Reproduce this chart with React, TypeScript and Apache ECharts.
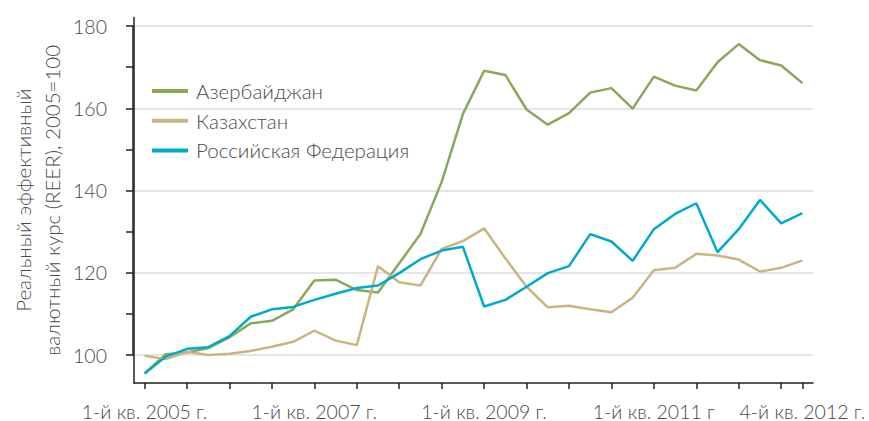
import React, { useEffect, useRef } from "react";
import * as echarts from "echarts";

const years = [2005, 2006, 2007, 2008, 2009, 2010, 2011, 2012];
const quarters = ["1-й кв.", "2-й кв.", "3-й кв.", "4-й кв."];
const categories: string[] = [];
years.forEach((y) => quarters.forEach((q) => categories.push(`${q} ${y} г.`)));

// displayed x tick labels (index -> text)
const xTickLabels: Record<number, string> = {
  0: "1-й кв. 2005 г.",
  8: "1-й кв. 2007 г.",
  16: "1-й кв. 2009 г.",
  24: "1-й кв. 2011 г",
  31: "4-й кв. 2012 г.",
};

const azerbaijan = [
  95.5, 100.2, 100.6, 101.7, 104.3, 107.7, 108.3, 111.1,
  118.1, 118.3, 115.8, 115.2, 122.3, 129.4, 142.1, 158.6,
  169.1, 168.1, 159.7, 156.0, 158.8, 163.8, 164.9, 159.9,
  167.7, 165.5, 164.3, 171.2, 175.6, 171.7, 170.4, 166.1,
];
const kazakhstan = [
  99.8, 99.0, 100.8, 100.0, 100.3, 101.0, 102.0, 103.2,
  105.9, 103.5, 102.4, 121.6, 117.7, 116.9, 125.8, 127.7,
  130.8, 123.5, 116.6, 111.6, 112.0, 111.1, 110.4, 113.9,
  120.6, 121.2, 124.6, 124.2, 123.2, 120.3, 121.2, 123.0,
];
const russia = [
  95.5, 99.6, 101.5, 101.9, 104.6, 109.3, 111.1, 111.7,
  113.4, 114.9, 116.3, 116.9, 119.9, 123.3, 125.4, 126.3,
  111.8, 113.4, 116.6, 119.9, 121.6, 129.4, 127.6, 122.9,
  130.6, 134.3, 136.9, 125.0, 130.6, 137.7, 132.0, 134.5,
];

const seriesNames = ["Азербайджан", "Казахстан", "Российская Федерация"];
const seriesColors = ["#89a858", "#c8b580", "#00aacc"];

const FONT = "Lato, 'Open Sans', sans-serif";
const TEXT = "#4a4a4a";
const AXIS = "#222222";

// layout
const W = 869;
const H = 421;
const LEFT = 133;
const RIGHT = 56;
const GRID_TOP = 26; // y of 180
const GRID_BOTTOM_Y = 355; // y of 100
const AXIS_TOP = 17.5;
const AXIS_BOTTOM_Y = 383;
const Y_MIN = 100;
const Y_MAX = 180;
const pxPerUnit = (GRID_BOTTOM_Y - GRID_TOP) / (Y_MAX - Y_MIN);
const outerMin = Y_MIN - (AXIS_BOTTOM_Y - GRID_BOTTOM_Y) / pxPerUnit;
const outerMax = Y_MAX + (GRID_TOP - AXIS_TOP) / pxPerUnit;

export default function App() {
  const ref = useRef<HTMLDivElement>(null);
  useEffect(() => {
    document.body.style.margin = "0";
    if (!ref.current) return;
    const chart = echarts.init(ref.current, null, { renderer: "svg" });
    const data = [azerbaijan, kazakhstan, russia];
    const lineSeries = seriesNames.map((name, k) => ({
      name,
      type: "line",
      xAxisIndex: 0,
      yAxisIndex: 0,
      data: data[k],
      symbol: "none",
      lineStyle: { color: seriesColors[k], width: 2.5 },
      itemStyle: { color: seriesColors[k] },
      z: 3 + (k === 1 ? 0 : k),
    }));
    chart.setOption({
      animation: false,
      backgroundColor: "#ffffff",
      textStyle: { fontFamily: FONT },
      grid: [
        { left: LEFT, right: RIGHT, top: AXIS_TOP, bottom: H - AXIS_BOTTOM_Y },
        { left: LEFT, right: RIGHT, top: GRID_TOP, bottom: H - GRID_BOTTOM_Y },
      ],
      legend: {
        orient: "vertical",
        left: 147,
        top: 73,
        itemWidth: 36,
        itemHeight: 4,
        itemGap: 3.7,
        icon: "rect",
        data: seriesNames,
        textStyle: {
          fontFamily: FONT,
          fontWeight: 300,
          fontSize: 20.5,
          lineHeight: 26,
          color: TEXT,
          padding: [0, 0, 0, 3],
        },
      },
      xAxis: [
        {
          type: "category",
          gridIndex: 0,
          data: categories,
          boundaryGap: true,
          axisLine: { show: true, lineStyle: { color: AXIS, width: 1.5 } },
          axisTick: {
            show: true,
            alignWithLabel: true,
            length: 6,
            interval: (i: number) => i % 2 === 0 || i === categories.length - 1,
            lineStyle: { color: AXIS, width: 1.5 },
          },
          axisLabel: {
            show: true,
            interval: (i: number) => xTickLabels[i] !== undefined,
            formatter: (_v: string, i: number) => xTickLabels[i] ?? "",
            fontFamily: FONT,
            fontWeight: 300,
            fontSize: 19.5,
            lineHeight: 20,
            color: TEXT,
            margin: 18,
          },
          splitLine: { show: false },
        },
        { type: "category", gridIndex: 1, data: categories, show: false },
      ],
      yAxis: [
        {
          type: "value",
          gridIndex: 0,
          min: outerMin,
          max: outerMax,
          axisLine: { show: true, lineStyle: { color: AXIS, width: 1.5 } },
          axisTick: { show: false },
          axisLabel: { show: false },
          splitLine: { show: false },
          name: "Реальный эффективный\nвалютный курс (REER), 2005=100",
          nameLocation: "middle",
          nameRotate: 90,
          nameGap: 68,
          nameTextStyle: {
            fontFamily: FONT,
            fontWeight: 300,
            fontSize: 20.5,
            lineHeight: 29,
            color: TEXT,
            align: "center",
          },
        },
        {
          type: "value",
          gridIndex: 1,
          min: Y_MIN,
          max: Y_MAX,
          interval: 20,
          axisLine: { show: true, lineStyle: { color: AXIS, width: 1.5 } },
          axisTick: { show: true, length: 7, lineStyle: { color: AXIS, width: 1.5 } },
          minorTick: { show: true, splitNumber: 2, length: 7, lineStyle: { color: AXIS, width: 1.5 } },
          axisLabel: {
            show: true,
            fontFamily: FONT,
            fontWeight: 300,
            fontSize: 19.5,
            color: TEXT,
            margin: 26,
            padding: [0, 0, 9, 0],
          },
          splitLine: { show: true, lineStyle: { color: "#dcdcdc", width: 1.5 } },
        },
      ],
      series: lineSeries,
    });
    return () => chart.dispose();
  }, []);
  return <div ref={ref} style={{ width: W, height: H }} />;
}
